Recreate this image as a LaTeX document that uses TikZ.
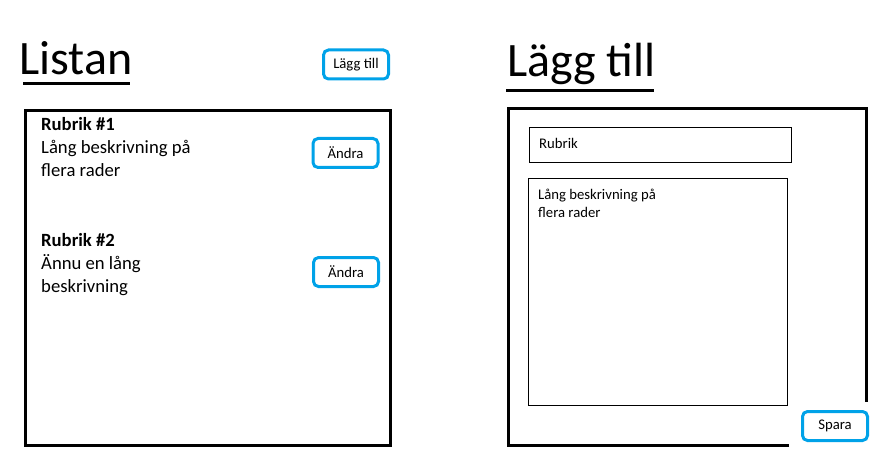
\documentclass[tikz,border=0pt]{standalone}
\usepackage{fontspec}
\setmainfont{Carlito}
\usepackage{tikz}
\usetikzlibrary{positioning}

\definecolor{paintblue}{HTML}{00A2E8}

\begin{document}
\begin{tikzpicture}[x=1pt, y=-1pt,
    rubrik/.style={font=\fontsize{48}{58}\selectfont, anchor=base west, inner sep=0pt},
    knapp/.style={draw=paintblue, line width=3pt, rounded corners=5pt, minimum width=65pt, minimum height=29pt, inner sep=0pt, font=\fontsize{14.7}{18}\selectfont},
    post/.style={anchor=north west, inner sep=0pt, align=left, font=\fontsize{18.67}{23}\selectfont},
    falt/.style={draw, line width=1pt, anchor=north west, inner sep=0pt}]
    \useasboundingbox (0,0) rectangle (880,465);

    % Listan
    \node[rubrik] (listan) at (19,75) {Listan};
    \draw[line width=3pt] (23,84) -- (130,84);
    \node[knapp] (laggtillknapp) at (356,64.5) {Lägg till};

    \draw[line width=3pt] (25.5,110.5) rectangle (390.5,445);

    % Poster
    \node[post] (post1) at (41,117) {\textbf{Rubrik \#1}\\Lång beskrivning på\\flera rader};
    \node[knapp] (andra1) at (345.5,153) {Ändra};

    \node[post] (post2) at (41,233) {\textbf{Rubrik \#2}\\Ännu en lång\\beskrivning};
    \node[knapp] (andra2) at (346,272) {Ändra};

    % Lägg till
    \node[rubrik] (laggtill) at (507,77) {Lägg till};
    \draw[line width=3pt] (506,91) -- (654,91);

    \draw[line width=3pt] (789,445) -- (508.5,445) -- (508.5,108.5) -- (866,108.5) -- (866,402);

    % Fält
    \node[falt, minimum width=262pt, minimum height=35pt] (rubrikfalt) at (529,127) {};
    \node[anchor=west, inner sep=0pt, font=\fontsize{14.7}{18}\selectfont] (rubriktext) at (539,143.5) {Rubrik};

    \node[falt, minimum width=259pt, minimum height=227pt] (beskrivning) at (528,178) {};
    \node[anchor=north west, inner sep=0pt, align=left, font=\fontsize{14.7}{18}\selectfont] (beskrivningtext) at (538,189) {Lång beskrivning på\\flera rader};

    \node[knapp] (spara) at (835,426) {Spara};
\end{tikzpicture}
\end{document}
